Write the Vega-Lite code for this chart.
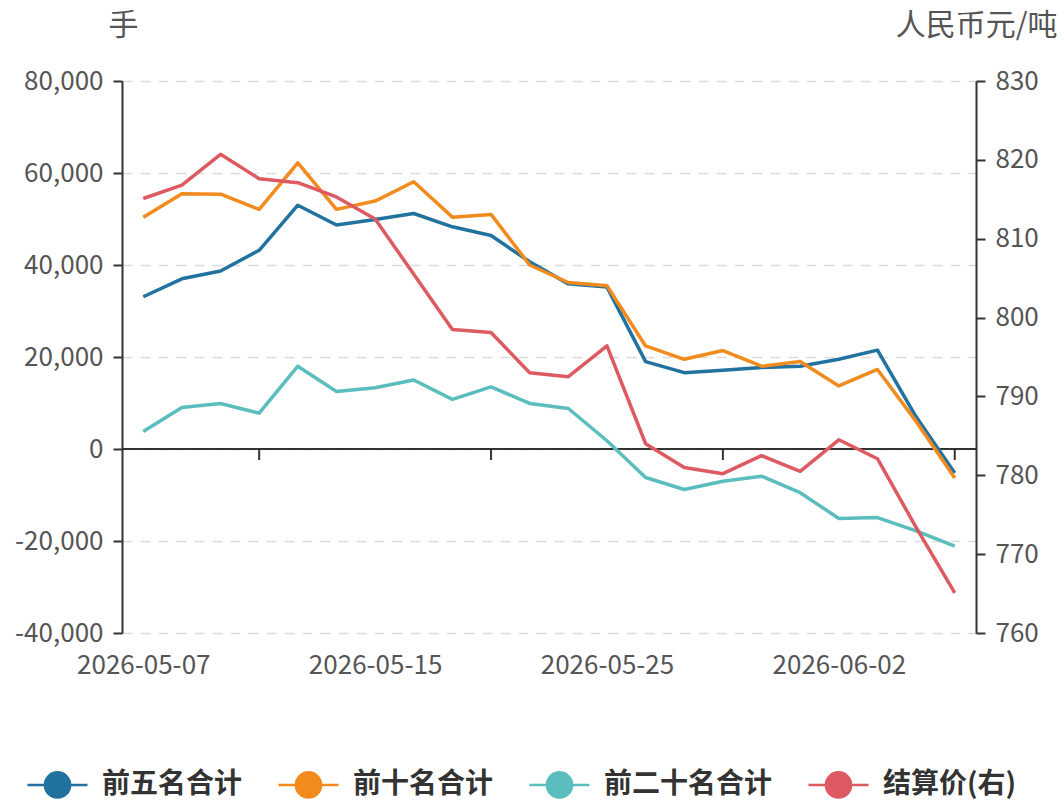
{
  "$schema": "https://vega.github.io/schema/vega-lite/v6.json",
  "width": 854,
  "height": 552,
  "autosize": {"type": "none"},
  "padding": {"left": 122, "top": 81, "right": 88, "bottom": 172},
  "background": "white",
  "datasets": {
    "main": [
      {"d": "2026-05-07", "s": "前五名合计", "v": 33100},
      {"d": "2026-05-08", "s": "前五名合计", "v": 37000},
      {"d": "2026-05-11", "s": "前五名合计", "v": 38700},
      {"d": "2026-05-12", "s": "前五名合计", "v": 43200},
      {"d": "2026-05-13", "s": "前五名合计", "v": 53000},
      {"d": "2026-05-14", "s": "前五名合计", "v": 48700},
      {"d": "2026-05-15", "s": "前五名合计", "v": 49900},
      {"d": "2026-05-18", "s": "前五名合计", "v": 51200},
      {"d": "2026-05-19", "s": "前五名合计", "v": 48300},
      {"d": "2026-05-20", "s": "前五名合计", "v": 46400},
      {"d": "2026-05-21", "s": "前五名合计", "v": 40700},
      {"d": "2026-05-22", "s": "前五名合计", "v": 35900},
      {"d": "2026-05-25", "s": "前五名合计", "v": 35200},
      {"d": "2026-05-26", "s": "前五名合计", "v": 19000},
      {"d": "2026-05-27", "s": "前五名合计", "v": 16600},
      {"d": "2026-05-28", "s": "前五名合计", "v": 17100},
      {"d": "2026-05-29", "s": "前五名合计", "v": 17700},
      {"d": "2026-06-01", "s": "前五名合计", "v": 18000},
      {"d": "2026-06-02", "s": "前五名合计", "v": 19500},
      {"d": "2026-06-03", "s": "前五名合计", "v": 21500},
      {"d": "2026-06-04", "s": "前五名合计", "v": 7000},
      {"d": "2026-06-05", "s": "前五名合计", "v": -5200},
      {"d": "2026-05-07", "s": "前十名合计", "v": 50400},
      {"d": "2026-05-08", "s": "前十名合计", "v": 55500},
      {"d": "2026-05-11", "s": "前十名合计", "v": 55400},
      {"d": "2026-05-12", "s": "前十名合计", "v": 52100},
      {"d": "2026-05-13", "s": "前十名合计", "v": 62200},
      {"d": "2026-05-14", "s": "前十名合计", "v": 52100},
      {"d": "2026-05-15", "s": "前十名合计", "v": 53900},
      {"d": "2026-05-18", "s": "前十名合计", "v": 58100},
      {"d": "2026-05-19", "s": "前十名合计", "v": 50400},
      {"d": "2026-05-20", "s": "前十名合计", "v": 51000},
      {"d": "2026-05-21", "s": "前十名合计", "v": 40000},
      {"d": "2026-05-22", "s": "前十名合计", "v": 36200},
      {"d": "2026-05-25", "s": "前十名合计", "v": 35500},
      {"d": "2026-05-26", "s": "前十名合计", "v": 22400},
      {"d": "2026-05-27", "s": "前十名合计", "v": 19500},
      {"d": "2026-05-28", "s": "前十名合计", "v": 21400},
      {"d": "2026-05-29", "s": "前十名合计", "v": 18000},
      {"d": "2026-06-01", "s": "前十名合计", "v": 19000},
      {"d": "2026-06-02", "s": "前十名合计", "v": 13700},
      {"d": "2026-06-03", "s": "前十名合计", "v": 17300},
      {"d": "2026-06-04", "s": "前十名合计", "v": 6000},
      {"d": "2026-06-05", "s": "前十名合计", "v": -6300},
      {"d": "2026-05-07", "s": "前二十名合计", "v": 3800},
      {"d": "2026-05-08", "s": "前二十名合计", "v": 9000},
      {"d": "2026-05-11", "s": "前二十名合计", "v": 9900},
      {"d": "2026-05-12", "s": "前二十名合计", "v": 7800},
      {"d": "2026-05-13", "s": "前二十名合计", "v": 18000},
      {"d": "2026-05-14", "s": "前二十名合计", "v": 12500},
      {"d": "2026-05-15", "s": "前二十名合计", "v": 13300},
      {"d": "2026-05-18", "s": "前二十名合计", "v": 15000},
      {"d": "2026-05-19", "s": "前二十名合计", "v": 10800},
      {"d": "2026-05-20", "s": "前二十名合计", "v": 13500},
      {"d": "2026-05-21", "s": "前二十名合计", "v": 9900},
      {"d": "2026-05-22", "s": "前二十名合计", "v": 8800},
      {"d": "2026-05-25", "s": "前二十名合计", "v": 1800},
      {"d": "2026-05-26", "s": "前二十名合计", "v": -6200},
      {"d": "2026-05-27", "s": "前二十名合计", "v": -8800},
      {"d": "2026-05-28", "s": "前二十名合计", "v": -7000},
      {"d": "2026-05-29", "s": "前二十名合计", "v": -5900},
      {"d": "2026-06-01", "s": "前二十名合计", "v": -9500},
      {"d": "2026-06-02", "s": "前二十名合计", "v": -15100},
      {"d": "2026-06-03", "s": "前二十名合计", "v": -14900},
      {"d": "2026-06-04", "s": "前二十名合计", "v": -17800},
      {"d": "2026-06-05", "s": "前二十名合计", "v": -21100},
      {"d": "2026-05-07", "s": "结算价(右)", "v": 815.1},
      {"d": "2026-05-08", "s": "结算价(右)", "v": 816.8},
      {"d": "2026-05-11", "s": "结算价(右)", "v": 820.7},
      {"d": "2026-05-12", "s": "结算价(右)", "v": 817.6},
      {"d": "2026-05-13", "s": "结算价(右)", "v": 817.1},
      {"d": "2026-05-14", "s": "结算价(右)", "v": 815.3},
      {"d": "2026-05-15", "s": "结算价(右)", "v": 812.5},
      {"d": "2026-05-18", "s": "结算价(右)", "v": 805.5},
      {"d": "2026-05-19", "s": "结算价(右)", "v": 798.5},
      {"d": "2026-05-20", "s": "结算价(右)", "v": 798.1},
      {"d": "2026-05-21", "s": "结算价(右)", "v": 793.0},
      {"d": "2026-05-22", "s": "结算价(右)", "v": 792.5},
      {"d": "2026-05-25", "s": "结算价(右)", "v": 796.4},
      {"d": "2026-05-26", "s": "结算价(右)", "v": 784.0},
      {"d": "2026-05-27", "s": "结算价(右)", "v": 781.0},
      {"d": "2026-05-28", "s": "结算价(右)", "v": 780.2},
      {"d": "2026-05-29", "s": "结算价(右)", "v": 782.5},
      {"d": "2026-06-01", "s": "结算价(右)", "v": 780.5},
      {"d": "2026-06-02", "s": "结算价(右)", "v": 784.5},
      {"d": "2026-06-03", "s": "结算价(右)", "v": 782.1},
      {"d": "2026-06-04", "s": "结算价(右)", "v": 773.4},
      {"d": "2026-06-05", "s": "结算价(右)", "v": 765.1}
    ],
    "ticks": [
      {"d": "2026-05-12"},
      {"d": "2026-05-20"},
      {"d": "2026-05-28"},
      {"d": "2026-06-05"}
    ]
  },
  "layer": [
    {
      "layer": [
        {
          "data": {"values": [{}]},
          "mark": {"type": "rule", "color": "#333333", "strokeWidth": 2},
          "encoding": {
            "y": {
              "datum": 0, "type": "quantitative",
              "scale": {"domain": [-40000, 80000], "nice": false, "zero": false},
              "axis": {"title": "手", "values": [-40000, -20000, 0, 20000, 40000, 60000, 80000], "labelExpr": "datum.value < 0 ? '-' + format(-datum.value, ',') : format(datum.value, ',')", "grid": true, "titleX": 1, "titleY": -56}
            }
          }
        },
        {
          "data": {"name": "ticks"},
          "mark": {"type": "rule", "color": "#333333", "strokeWidth": 2},
          "encoding": {
            "x": {
              "field": "d", "type": "ordinal",
              "scale": {"type": "point", "padding": 0.55, "domain": ["2026-05-07","2026-05-08","2026-05-11","2026-05-12","2026-05-13","2026-05-14","2026-05-15","2026-05-18","2026-05-19","2026-05-20","2026-05-21","2026-05-22","2026-05-25","2026-05-26","2026-05-27","2026-05-28","2026-05-29","2026-06-01","2026-06-02","2026-06-03","2026-06-04","2026-06-05"]},
              "axis": {"values": ["2026-05-07", "2026-05-15", "2026-05-25", "2026-06-02"], "title": null}
            },
            "y": {
              "datum": 0, "type": "quantitative",
              "scale": {"domain": [-40000, 80000], "nice": false, "zero": false},
              "axis": {"title": "手", "values": [-40000, -20000, 0, 20000, 40000, 60000, 80000], "labelExpr": "datum.value < 0 ? '-' + format(-datum.value, ',') : format(datum.value, ',')", "grid": true, "titleX": 1, "titleY": -56}
            },
            "y2": {"datum": -2400}
          }
        },
        {
          "data": {"name": "main"},
          "transform": [{"filter": "datum.s !== '结算价(右)'"}],
          "mark": {"type": "line", "strokeWidth": 3.5, "strokeJoin": "round"},
          "encoding": {
            "x": {
              "field": "d", "type": "ordinal",
              "scale": {"type": "point", "padding": 0.55, "domain": ["2026-05-07","2026-05-08","2026-05-11","2026-05-12","2026-05-13","2026-05-14","2026-05-15","2026-05-18","2026-05-19","2026-05-20","2026-05-21","2026-05-22","2026-05-25","2026-05-26","2026-05-27","2026-05-28","2026-05-29","2026-06-01","2026-06-02","2026-06-03","2026-06-04","2026-06-05"]},
              "axis": {"values": ["2026-05-07", "2026-05-15", "2026-05-25", "2026-06-02"], "title": null}
            },
            "y": {
              "field": "v", "type": "quantitative",
              "scale": {"domain": [-40000, 80000], "nice": false, "zero": false},
              "axis": {"title": "手", "values": [-40000, -20000, 0, 20000, 40000, 60000, 80000], "labelExpr": "datum.value < 0 ? '-' + format(-datum.value, ',') : format(datum.value, ',')", "grid": true, "titleX": 1, "titleY": -56}
            },
            "color": {
              "field": "s", "type": "nominal",
              "scale": {"domain": ["前五名合计", "前十名合计", "前二十名合计", "结算价(右)"], "range": ["#21729f", "#f18b1e", "#5bbdbd", "#dd5a62"]},
              "legend": {
                "title": null,
                "orient": "none",
                "legendX": -96,
                "legendY": 672,
                "direction": "horizontal",
                "symbolType": "M-1,0L-0.45,0M0.45,0L1,0M-0.42,0A0.42,0.42,0,1,0,0.42,0A0.42,0.42,0,1,0,-0.42,0Z",
                "symbolSize": 3600,
                "symbolStrokeWidth": 2.5,
                "labelFontSize": 28,
                "labelFontWeight": "bold",
                "labelColor": "#333333",
                "labelOffset": 13,
                "columnPadding": 30,
                "padding": 0,
                "labelLimit": 400,
                "encode": {"symbols": {"update": {"fill": {"scale": "color", "field": "value"}, "fillOpacity": {"value": 1}}}}
              }
            }
          }
        }
      ]
    },
    {
      "data": {"name": "main"},
      "transform": [{"filter": "datum.s === '结算价(右)'"}],
      "mark": {"type": "line", "strokeWidth": 3.5, "strokeJoin": "round"},
      "encoding": {
        "x": {
          "field": "d", "type": "ordinal",
          "scale": {"type": "point", "padding": 0.55, "domain": ["2026-05-07","2026-05-08","2026-05-11","2026-05-12","2026-05-13","2026-05-14","2026-05-15","2026-05-18","2026-05-19","2026-05-20","2026-05-21","2026-05-22","2026-05-25","2026-05-26","2026-05-27","2026-05-28","2026-05-29","2026-06-01","2026-06-02","2026-06-03","2026-06-04","2026-06-05"]},
          "axis": {"values": ["2026-05-07", "2026-05-15", "2026-05-25", "2026-06-02"], "title": null}
        },
        "y": {
          "field": "v", "type": "quantitative",
          "scale": {"domain": [760, 830], "nice": false, "zero": false},
          "axis": {"orient": "right", "title": "人民币元/吨", "values": [760, 770, 780, 790, 800, 810, 820, 830], "grid": false, "titleX": 81, "titleY": -56, "titleAlign": "right"}
        },
        "color": {"field": "s", "type": "nominal"}
      }
    }
  ],
  "resolve": {"scale": {"y": "independent"}},
  "config": {
    "view": {"stroke": null},
    "font": "Noto Sans CJK SC",
    "axisX": {
      "ticks": false, "tickSize": 0, "domain": false, "grid": false,
      "labelAngle": 0, "labelFontSize": 26, "labelColor": "#555555",
      "labelPadding": 32, "labelBaseline": "middle"
    },
    "axisY": {
      "domainColor": "#333333", "domainWidth": 2,
      "tickColor": "#333333", "tickWidth": 2, "tickSize": 9,
      "labelFontSize": 26, "labelColor": "#555555",
      "gridColor": "#dadada", "gridDash": [10, 8], "gridWidth": 1.5,
      "titleAngle": 0, "titleFontSize": 30, "titleFontWeight": "normal",
      "titleColor": "#555555", "titleBaseline": "middle", "titleAlign": "center"
    },
    "axisLeft": {"labelPadding": 10},
    "axisRight": {"labelPadding": 10}
  }
}
